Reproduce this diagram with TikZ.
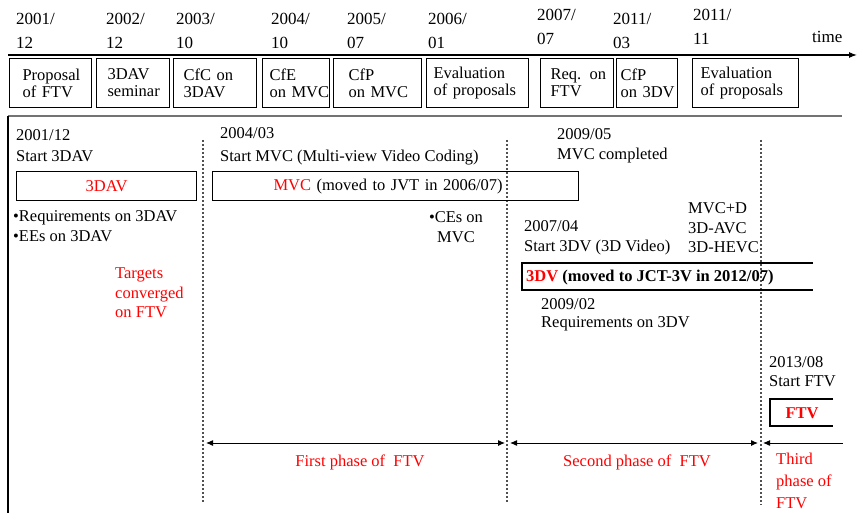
\documentclass[tikz,border=0pt]{standalone}
\usepackage{fontspec}
\setmainfont{Liberation Serif}
\usetikzlibrary{arrows.meta}
\definecolor{dashgray}{RGB}{80,80,80}
\definecolor{framegray}{RGB}{115,115,115}
\definecolor{ftvred}{RGB}{255,0,0}
\begin{document}
\begin{tikzpicture}[x=1pt,y=-1pt,
  tx/.style={font=\fontsize{16.5}{#1}\selectfont, inner sep=0pt, align=left},
  tx/.default=20,
  txc/.style={font=\fontsize{16.5}{#1}\selectfont, inner sep=0pt, align=center},
  txc/.default=20,
  datetx/.style={font=\fontsize{17}{24}\selectfont, inner sep=0pt, align=left, anchor=west},
  topbox/.style={draw, line width=1.1pt, align=left, minimum height=49pt, inner ysep=0pt,
    font=\fontsize{16.5}{17}\selectfont, anchor=north west},
  bar/.style={draw, line width=1.1pt, minimum height=29pt, inner ysep=0pt,
    font=\fontsize{16.5}{20}\selectfont, anchor=north west},
  phaseline/.style={dashgray, line width=1.1pt, dash pattern=on 2pt off 2pt},
  phasearrow/.style={line width=1pt},
  tipa/.tip={Latex[length=7pt,width=6pt]}
]
\useasboundingbox (0,0) rectangle (857,513);

% ---- time axis ----
\coordinate (ax0) at (8,55);
\coordinate (ax1) at (857,55);
\draw[line width=1.1pt, -{Latex[length=8pt,width=6pt]}] (ax0) -- (ax1);
\node[datetx] (time) at (812,37) {time};

% ---- dates on the axis ----
\node[datetx] (d1) at (16,31) {2001/\\12};
\node[datetx] (d2) at (106,31) {2002/\\12};
\node[datetx] (d3) at (176,31) {2003/\\10};
\node[datetx] (d4) at (271,31) {2004/\\10};
\node[datetx] (d5) at (347,31) {2005/\\07};
\node[datetx] (d6) at (428,31) {2006/\\01};
\node[datetx] (d7) at (537,27) {2007/\\07};
\node[datetx] (d8) at (613,31) {2011/\\03};
\node[datetx] (d9) at (693,27) {2011/\\11};

% ---- event boxes ----
\node[topbox, text width=56pt, inner xsep=13pt] (b1) at (9,58) {\mbox{Proposal}\\\mbox{of FTV}};
\node[topbox, text width=51pt, inner xsep=11pt] (b2) at (96,58) {\mbox{3DAV}\\\mbox{seminar}};
\node[topbox, text width=63pt, inner xsep=10pt] (b3) at (173,58) {\mbox{CfC on}\\\mbox{3DAV}};
\node[topbox, text width=53pt, inner xsep=7pt] (b4) at (262,58) {\mbox{CfE}\\\mbox{on MVC}};
\node[topbox, text width=58pt, inner xsep=15pt] (b5) at (333,58) {\mbox{CfP}\\\mbox{on MVC}};
\node[topbox, text width=88pt, inner xsep=7pt] (b6) at (426,58) {\mbox{Evaluation}\\\mbox{of proposals}};
\node[topbox, text width=53pt, inner xsep=10pt] (b7) at (540,58) {\mbox{Req. on}\\\mbox{FTV}};
\node[topbox, text width=53pt, inner xsep=4pt] (b8) at (616,58) {\mbox{CfP}\\\mbox{on 3DV}};
\node[topbox, text width=90pt, inner xsep=8pt] (b9) at (692,58) {\mbox{Evaluation}\\\mbox{of proposals}};

% ---- frame ----
\coordinate (fTL) at (8,116);
\coordinate (fTR) at (842,116);
\coordinate (fBL) at (8,513);
\draw[framegray, line width=1.8pt] (fTL) -- (fTR);
\draw[line width=1.1pt] (fTL) -- (fBL);

% ---- phase separators ----
\coordinate (s1t) at (203,140); \coordinate (s1b) at (203,503);
\coordinate (s2t) at (507,140); \coordinate (s2b) at (507,503);
\coordinate (s3t) at (761,140); \coordinate (s3b) at (761,505);
\draw[phaseline] (s1t) -- (s1b);
\draw[phaseline] (s2t) -- (s2b);
\draw[phaseline] (s3t) -- (s3b);

% ---- first column: 3DAV ----
\node[tx=21, anchor=west] (dav) at (16,146) {2001/12\\Start 3DAV};
\node[bar, minimum width=180pt] (davbar) at (16,171) {\textcolor{ftvred}{3DAV}};
\node[tx=20, anchor=west] (davitems) at (13,226) {•Requirements on 3DAV\\•EEs on 3DAV};
\node[tx=19.5, anchor=west, text=ftvred] (targets) at (115,293) {Targets\\converged\\on FTV};

% ---- MVC ----
\node[tx=23, anchor=west] (mvc) at (220,146) {2004/03\\Start MVC (Multi-view Video Coding)};
\node[bar, align=left, text width=244pt, inner xsep=61pt] (mvcbar) at (212,171)
  {\mbox{\textcolor{ftvred}{MVC} (moved to JVT in 2006/07)}};
\node[txc=19.5, anchor=center] (ces) at (456,227) {•CEs on\\MVC};
\node[tx=20, anchor=west] (mvcdone) at (557,146) {2009/05\\MVC completed};

% ---- 3DV ----
\node[tx=19.5, anchor=west] (stds) at (688,228) {MVC+D\\3D-AVC\\3D-HEVC};
\node[tx=19.5, anchor=west] (tdv) at (524,238) {2007/04\\Start 3DV (3D Video)};
\coordinate (tdvTR) at (813,263);
\coordinate (tdvBL) at (522,290);
\coordinate (tdvBR) at (813,290);
\draw[line width=1.1pt] (tdvTR) -| (tdvBL) -- (tdvBR);
\node[tx, anchor=west, font=\fontsize{16.5}{20}\selectfont\bfseries] (tdvlabel) at (526,278)
  {\textcolor{ftvred}{3DV} (moved to JCT-3V in 2012/07)};
\node[tx=18, anchor=west] (tdvreq) at (541,315) {2009/02\\Requirements on 3DV};

% ---- FTV ----
\node[tx=19, anchor=west] (ftv) at (769,372) {2013/08\\Start FTV};
\coordinate (ftvTR) at (833,399);
\coordinate (ftvBL) at (770,426);
\coordinate (ftvBR) at (833,426);
\draw[line width=1.1pt] (ftvTR) -| (ftvBL) -- (ftvBR);
\node[tx, anchor=center, font=\fontsize{16.5}{20}\selectfont\bfseries, text=ftvred] (ftvlabel) at (802,413) {FTV};

% ---- phases ----
\coordinate (p1a) at (206,443); \coordinate (p1b) at (505,443);
\coordinate (p2a) at (510,443); \coordinate (p2b) at (758,443);
\coordinate (p3a) at (763,443); \coordinate (p3b) at (843,443);
\draw[phasearrow, tipa-tipa] (p1a) -- (p1b);
\draw[phasearrow, tipa-tipa] (p2a) -- (p2b);
\draw[phasearrow, tipa-] (p3a) -- (p3b);
\node[tx, anchor=center, text=ftvred] (ph1) at (360,462) {First phase of\ \ FTV};
\node[tx, anchor=center, text=ftvred] (ph2) at (637,462) {Second phase of\ \ FTV};
\node[tx=22, anchor=west, text=ftvred] (ph3) at (776,481) {Third\\phase of\\FTV};
\end{tikzpicture}
\end{document}
